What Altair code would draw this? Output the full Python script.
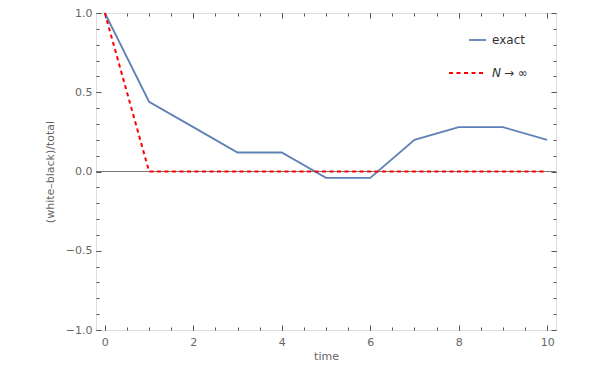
import altair as alt
import pandas as pd

# data
time = [0, 1, 2, 3, 4, 5, 6, 7, 8, 9, 10]
exact = [1.0, 0.44, 0.28, 0.12, 0.12, -0.04, -0.04, 0.20, 0.28, 0.28, 0.20]
limit = [1.0, 0.0, 0.0, 0.0, 0.0, 0.0, 0.0, 0.0, 0.0, 0.0, 0.0]
x_major = [0, 2, 4, 6, 8, 10]
x_minor = [i * 0.5 for i in range(0, 21)]
y_major = [-1.0, -0.5, 0.0, 0.5, 1.0]
y_minor = [round(-1 + i * 0.1, 1) for i in range(0, 21)]
legend_labels = ["exact", "N", "\u2192 \u221e"]

W, H = 460, 317
FONT = "DejaVu Sans"
GRAY = "#666666"
FRAME = "#555555"

df = pd.DataFrame({"time": time, "exact": exact, "limit": limit})
one = alt.Chart(pd.DataFrame({"k": [0]}))

xs = alt.Scale(domain=[-0.2, 10.2], nice=False, zero=False)
ys = alt.Scale(domain=[-1.0, 1.0], nice=False, zero=False)

base = alt.Chart(df)


def ax(orient, values, size, offset=0):
    return alt.Axis(orient=orient, values=values, tickSize=size, tickColor=FRAME, tickWidth=1,
                    domain=False, grid=False, labels=False, offset=offset, title=None)


# label axes (no ticks)
lab = base.mark_point(opacity=0).encode(
    x=alt.X("time:Q", scale=xs,
            axis=alt.Axis(orient="bottom", values=x_major, ticks=False, domain=False, grid=False,
                          labelFont=FONT, labelFontSize=11, labelColor=GRAY, labelPadding=6,
                          title="time", titleFont=FONT, titleFontSize=11, titleColor=GRAY,
                          titleFontWeight="normal", titlePadding=3)),
    y=alt.Y("exact:Q", scale=ys,
            axis=alt.Axis(orient="left", values=y_major, ticks=False, domain=False, grid=False,
                          format=".1f", labelFont=FONT, labelFontSize=11, labelColor=GRAY,
                          labelPadding=4, title="(white\u2013black)/total", titleFont=FONT,
                          titleFontSize=11, titleColor=GRAY, titleFontWeight="normal",
                          titlePadding=10)),
)

layers = [lab]
# inward ticks: axis of opposite orient shifted across the plot
for vals, size in [(x_major, 5), (x_minor, 3)]:
    layers.append(base.mark_point(opacity=0).encode(
        x=alt.X("time:Q", scale=xs, axis=ax("top", vals, size, offset=-H)),
        y=alt.Y("exact:Q", scale=ys, axis=None)))
    layers.append(base.mark_point(opacity=0).encode(
        x=alt.X("time:Q", scale=xs, axis=ax("bottom", vals, size, offset=-H)),
        y=alt.Y("exact:Q", scale=ys, axis=None)))
for vals, size in [(y_major, 5), (y_minor, 3)]:
    layers.append(base.mark_point(opacity=0).encode(
        x=alt.X("time:Q", scale=xs, axis=None),
        y=alt.Y("exact:Q", scale=ys, axis=ax("right", vals, size, offset=-W))))
    layers.append(base.mark_point(opacity=0).encode(
        x=alt.X("time:Q", scale=xs, axis=None),
        y=alt.Y("exact:Q", scale=ys, axis=ax("left", vals, size, offset=-W))))

zero = alt.Chart(pd.DataFrame({"y": [0.0]})).mark_rule(color="#777777", strokeWidth=1).encode(
    y=alt.Y("y:Q", scale=ys, axis=None))

exact_line = base.mark_line(color="#5E81B5", strokeWidth=1.8).encode(
    x=alt.X("time:Q", scale=xs, axis=None), y=alt.Y("exact:Q", scale=ys, axis=None))
limit_line = base.mark_line(color="#FF0000", strokeWidth=2, strokeDash=[4, 3.5]).encode(
    x=alt.X("time:Q", scale=xs, axis=None), y=alt.Y("limit:Q", scale=ys, axis=None))

# legend (pixel layout, single-row data so nothing is overdrawn)
leg_y1 = 40 - 13
leg_y2 = 73 - 13
leg1 = one.mark_rule(color="#5E81B5", strokeWidth=1.8).encode(
    x=alt.value(468 - 95), x2=alt.value(485 - 95), y=alt.value(leg_y1))
leg2 = one.mark_rule(color="#FF0000", strokeWidth=2, strokeDash=[4, 3.5]).encode(
    x=alt.value(448 - 95), x2=alt.value(485 - 95), y=alt.value(leg_y2))
t1 = one.mark_text(align="left", baseline="middle", font=FONT, fontSize=12, color="#333333").encode(
    x=alt.value(491 - 95), y=alt.value(leg_y1), text=alt.value(legend_labels[0]))
t2 = one.mark_text(align="left", baseline="middle", font=FONT, fontSize=12, color="#333333",
                   fontStyle="italic").encode(
    x=alt.value(491 - 95), y=alt.value(leg_y2), text=alt.value(legend_labels[1]))
t3 = one.mark_text(align="left", baseline="middle", font=FONT, fontSize=12, color="#333333").encode(
    x=alt.value(503 - 95), y=alt.value(leg_y2), text=alt.value(legend_labels[2]))

chart = alt.layer(
    *layers, zero, exact_line, limit_line, leg1, leg2, t1, t2, t3
).resolve_axis(x="independent", y="independent").properties(
    width=W, height=H,
    autosize=alt.AutoSizeParams(type="none"),
    padding={"left": 88, "top": 5, "right": 36, "bottom": 32},
).configure_view(stroke=FRAME, strokeWidth=1.2).configure(background="white")

chart.save("out.html", embed_options={"renderer": "svg", "actions": False})
